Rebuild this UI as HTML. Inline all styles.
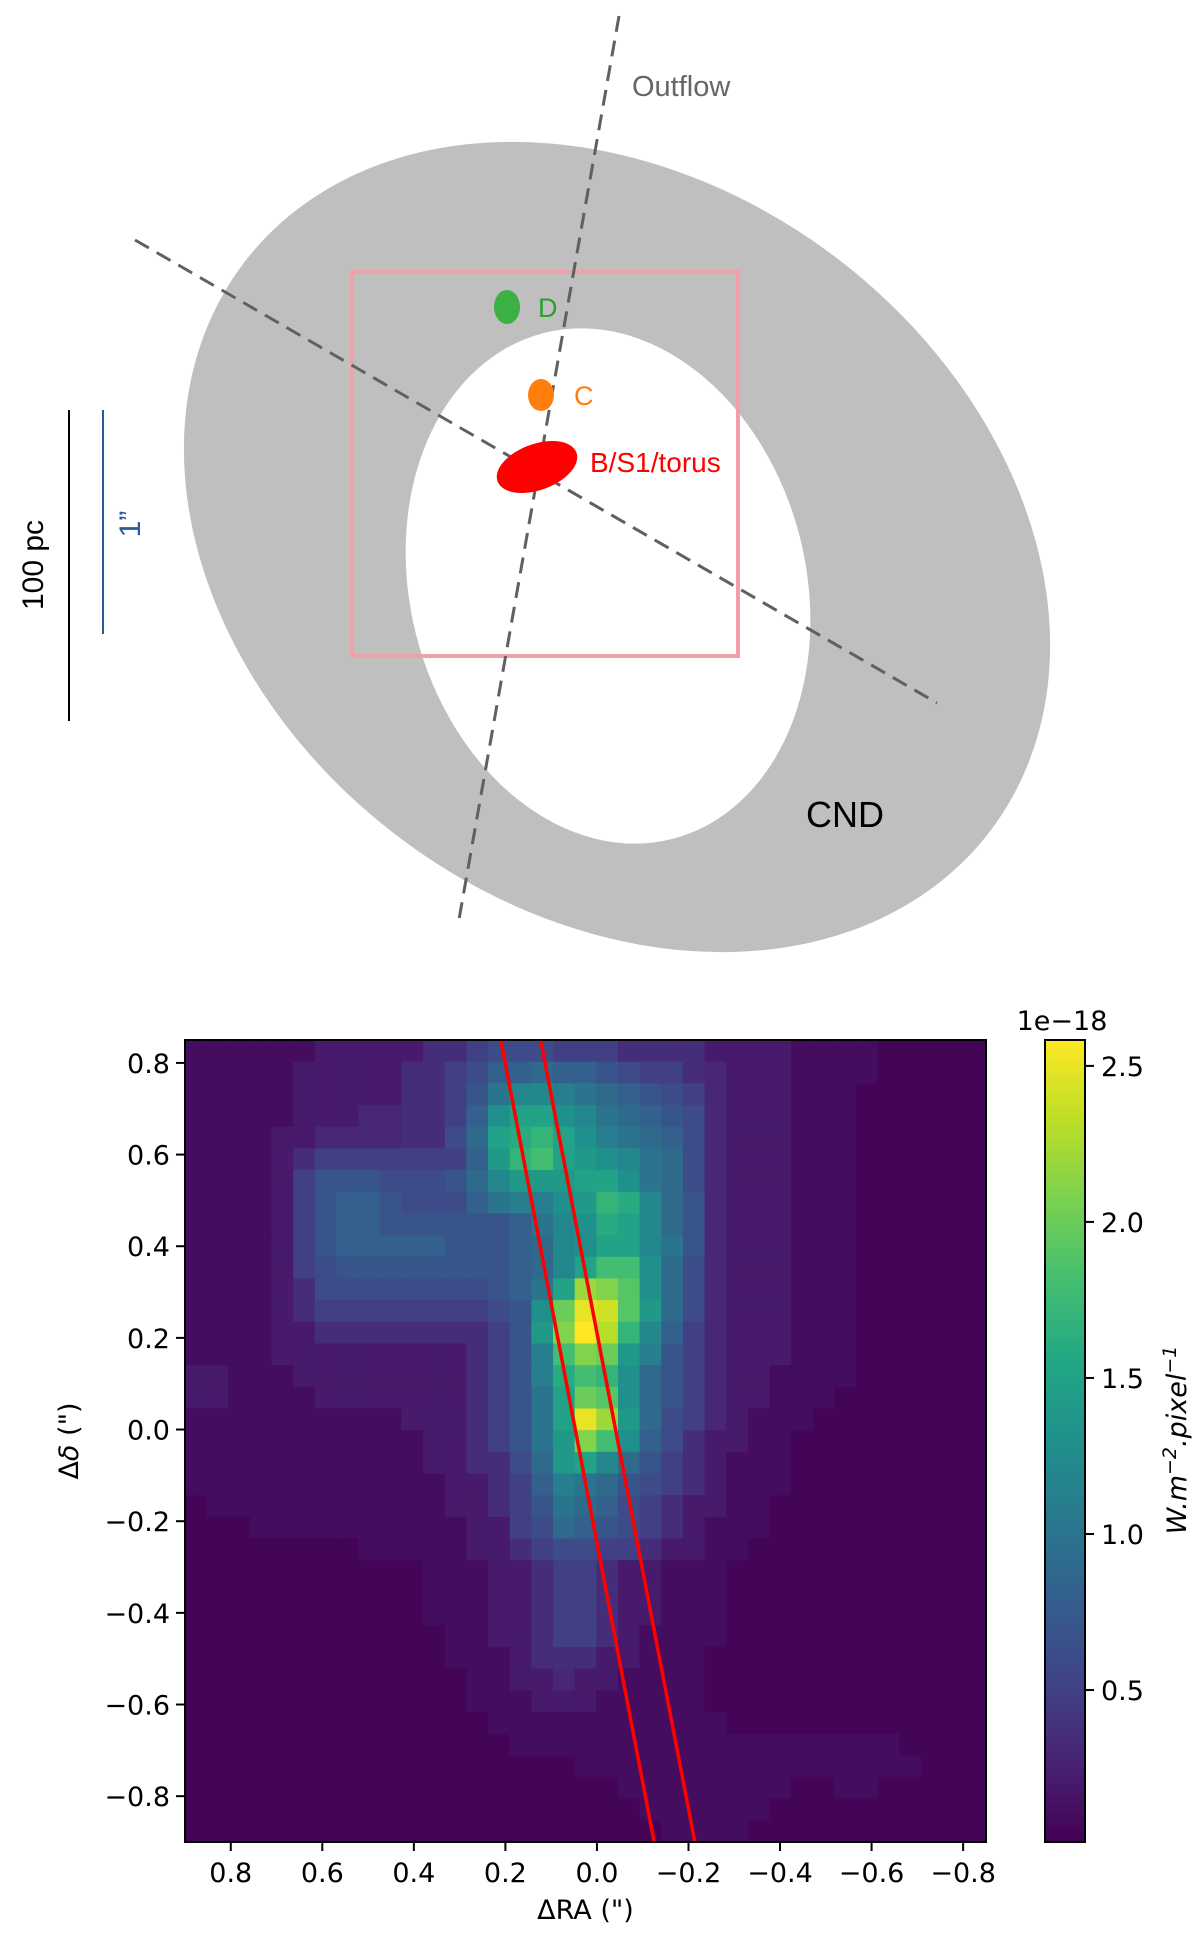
<!DOCTYPE html>
<html><head><meta charset="utf-8"><style>
html,body{margin:0;padding:0;background:#fff;}
svg{display:block;}
</style></head><body>
<svg id="root" width="1200" height="1933" viewBox="0 0 1200 1933" xmlns="http://www.w3.org/2000/svg" font-family="'DejaVu Sans','Liberation Sans',sans-serif">
<g id="diagram">
  <g transform="translate(617,547) rotate(37.3)">
    <ellipse cx="0" cy="0" rx="469" ry="363" fill="#bfbfbf"/>
  </g>
  <g transform="translate(608,586) rotate(75.8)">
    <ellipse cx="0" cy="0" rx="261" ry="198" fill="#ffffff"/>
  </g>
  <rect x="352" y="272" width="386" height="384" fill="none" stroke="#f0a0a8" stroke-width="4"/>
  <line x1="619" y1="16" x2="458" y2="925" stroke="#606060" stroke-width="3" stroke-dasharray="16,9"/>
  <line x1="135" y1="240" x2="937" y2="703" stroke="#606060" stroke-width="3" stroke-dasharray="16,9"/>
  <ellipse cx="507" cy="307" rx="13" ry="17" fill="#3cb043"/>
  <text x="538" y="317" font-family="'Liberation Sans',sans-serif" font-size="27" fill="#2ca02c">D</text>
  <ellipse cx="541" cy="395" rx="13" ry="16" fill="#ff7f0e"/>
  <text x="574" y="405" font-family="'Liberation Sans',sans-serif" font-size="27" fill="#ff7f0e">C</text>
  <ellipse cx="537" cy="467" rx="42" ry="23" transform="rotate(-20 537 467)" fill="#ff0000"/>
  <text x="590" y="472" font-family="'Liberation Sans',sans-serif" font-size="28" fill="#ff0000">B/S1/torus</text>
  <text x="632" y="96" font-family="'Liberation Sans',sans-serif" font-size="29" fill="#666666">Outflow</text>
  <text x="806" y="827" font-family="'Liberation Sans',sans-serif" font-size="36" fill="#000">CND</text>
  <line x1="69" y1="410" x2="69" y2="721" stroke="#000" stroke-width="2"/>
  <line x1="103" y1="410" x2="103" y2="634" stroke="#2a5a9a" stroke-width="2"/>
  <text x="0" y="0" transform="translate(43,565) rotate(-90)" text-anchor="middle" font-family="'Liberation Sans',sans-serif" font-size="30" fill="#000">100 pc</text>
  <text x="0" y="0" transform="translate(140,524) rotate(-90)" text-anchor="middle" font-family="'Liberation Sans',sans-serif" font-size="30" fill="#2a5a9a">1”</text>
</g>
<g id="chart"></g>
</svg>
<script>
// heatmap values in units of 0.1e-18 W m^-2 pixel^-1, rows top (north) to bottom
const row00=[1,1,1,1,1,1,2,2,2,2,2,3.5,3.5,5,6,6,6,5,5,5,3.5,3.5,3.5,3.5,2,2,2,2,1,1,1,1,0.4,0.4,0.4,0.4,0.4];
const row01=[1,1,1,1,1,2,2,2,2,2,3.5,3.5,5,6,8,8,9,8,8,7,6,5,5,3.5,3,2,2,2,1,1,1,1,0.4,0.4,0.4,0.4,0.4];
const row02=[1,1,1,1,1,2,2,2,2,2,3.5,3.5,5,7,10,12,12,11,10,9,8,7,6,5,3,2,2,2,1,1,1,0.4,0.4,0.4,0.4,0.4,0.4];
const row03=[1,1,1,1,1,2,2,2,3,3,3.5,3.5,5,8,13,15,15,13,12,10,9,8,7,6,3,2,2,2,1,1,1,0.4,0.4,0.4,0.4,0.4,0.4];
const row04=[1,1,1,1,2,2,3,3,3,3,3.5,3.5,6,9,15,16,17,15,13,11,10,9,8,6,3,2,2,2,1,1,1,0.4,0.4,0.4,0.4,0.4,0.4];
const row05=[1,1,1,1,2,3.5,5,5,5,5,5,5,5,8,14,17,18,15,14,13,12,10,9,6,3,2,2,2,1,1,1,0.4,0.4,0.4,0.4,0.4,0.4];
const row06=[1,1,1,1,2,5,7,7,7,6,6,6,7,9,12,14,14,14,15,15,13,10,9,6,3,2,2,2,1,1,1,0.4,0.4,0.4,0.4,0.4,0.4];
const row07=[1,1,1,1,2,5,7,8,8,7,6,6,6,8,10,11,11,13,14,17,16,12,9,7,3,2,2,2,1,1,1,0.4,0.4,0.4,0.4,0.4,0.4];
const row08=[1,1,1,1,2,5,7,8,8,7,7,7,7,7,7,8,10,12,13,16,15,12,9,7,3,2,2,2,1,1,1,0.4,0.4,0.4,0.4,0.4,0.4];
const row09=[1,1,1,1,2,5,7,8,8,8,8,8,7,7,7,8,9,12,13,15,15,12,10,7,3,2,2,2,1,1,1,0.4,0.4,0.4,0.4,0.4,0.4];
const row10=[1,1,1,1,2,5,6,7,7,7,7,7,7,7,7,8,9,12,15,18,18,13,9,6,3,2,2,2,1,1,1,0.4,0.4,0.4,0.4,0.4,0.4];
const row11=[1,1,1,1,2,3.5,6,6,6,6,6,6,6,6,7,8,10,15,22,21,19,13,9,6,3,2,2,2,1,1,1,0.4,0.4,0.4,0.4,0.4,0.4];
const row12=[1,1,1,1,2,3.5,5,5,5,5,5,5,5,5,6,7,13,20,25,24,19,14,9,6,3,2,2,2,1,1,1,0.4,0.4,0.4,0.4,0.4,0.4];
const row13=[1,1,1,1,2,2,3.5,3.5,3.5,3.5,3.5,3.5,3.5,3.5,5,7,14,21,26,23,17,12,8,5,3,2,2,2,1,1,1,0.4,0.4,0.4,0.4,0.4,0.4];
const row14=[1,1,1,1,2,2,2,2,2,2,2,2,2,3.5,5,7,11,18,21,20,14,11,7,5,3,2,2,2,1,1,1,0.4,0.4,0.4,0.4,0.4,0.4];
const row15=[2,2,1,1,1,2,2,2,2,2,2,2,2,3.5,5,7,11,16,18,17,13,9,7,5,3,2,2,1,1,1,1,0.4,0.4,0.4,0.4,0.4,0.4];
const row16=[2,2,1,1,1,1,2,2,2,2,2,2,2,3.5,5,7,10,15,20,19,13,9,7,5,3,2,2,1,1,1,0.4,0.4,0.4,0.4,0.4,0.4,0.4];
const row17=[1,1,1,1,1,1,1,1,1,1,2,2,2,3.5,5,7,10,15,25,22,14,9,6,5,3,2,1,1,1,0.4,0.4,0.4,0.4,0.4,0.4,0.4,0.4];
const row18=[1,1,1,1,1,1,1,1,1,1,1,2,2,3.5,5,7,10,14,21,18,13,8,6,3.5,2,2,1,1,0.4,0.4,0.4,0.4,0.4,0.4,0.4,0.4,0.4];
const row19=[1,1,1,1,1,1,1,1,1,1,1,2,2,3.5,3.5,6,9,14,15,12,9,7,5,3.5,2,1,1,1,0.4,0.4,0.4,0.4,0.4,0.4,0.4,0.4,0.4];
const row20=[1,1,1,1,1,1,1,1,1,1,1,1,2,2,3.5,5,8,11,10,9,7,6,5,3.5,2,1,1,1,0.4,0.4,0.4,0.4,0.4,0.4,0.4,0.4,0.4];
const row21=[0.4,1,1,1,1,1,1,1,1,1,1,1,2,2,3.5,5,7,10,9,8,6,5,3.5,2,2,1,1,0.4,0.4,0.4,0.4,0.4,0.4,0.4,0.4,0.4,0.4];
const row22=[0.4,0.4,0.4,1,1,1,1,1,1,1,1,1,1,2,2,5,6,9,8,7,6,5,3.5,2,1,1,1,0.4,0.4,0.4,0.4,0.4,0.4,0.4,0.4,0.4,0.4];
const row23=[0.4,0.4,0.4,0.4,0.4,0.4,0.4,0.4,1,1,1,1,1,2,2,3.5,5,6,6,5,5,3.5,2,2,1,1,0.4,0.4,0.4,0.4,0.4,0.4,0.4,0.4,0.4,0.4,0.4];
const row24=[0.4,0.4,0.4,0.4,0.4,0.4,0.4,0.4,0.4,0.4,0.4,1,1,1,2,2,3.5,5,5,3.5,2,2,1,1,1,0.4,0.4,0.4,0.4,0.4,0.4,0.4,0.4,0.4,0.4,0.4,0.4];
const row25=[0.4,0.4,0.4,0.4,0.4,0.4,0.4,0.4,0.4,0.4,0.4,1,1,1,2,2,3.5,5,5,3.5,2,2,1,1,1,0.4,0.4,0.4,0.4,0.4,0.4,0.4,0.4,0.4,0.4,0.4,0.4];
const row26=[0.4,0.4,0.4,0.4,0.4,0.4,0.4,0.4,0.4,0.4,0.4,1,1,1,2,2,3.5,5,5,3.5,2,2,1,1,1,0.4,0.4,0.4,0.4,0.4,0.4,0.4,0.4,0.4,0.4,0.4,0.4];
const row27=[0.4,0.4,0.4,0.4,0.4,0.4,0.4,0.4,0.4,0.4,0.4,0.4,1,1,2,2,3.5,5,5,3.5,2,1,1,1,1,0.4,0.4,0.4,0.4,0.4,0.4,0.4,0.4,0.4,0.4,0.4,0.4];
const row28=[0.4,0.4,0.4,0.4,0.4,0.4,0.4,0.4,0.4,0.4,0.4,0.4,1,1,1,2,3.5,3.5,3.5,2,2,1,1,1,0.4,0.4,0.4,0.4,0.4,0.4,0.4,0.4,0.4,0.4,0.4,0.4,0.4];
const row29=[0.4,0.4,0.4,0.4,0.4,0.4,0.4,0.4,0.4,0.4,0.4,0.4,0.4,1,1,2,2,3,2,2,1,1,1,1,0.4,0.4,0.4,0.4,0.4,0.4,0.4,0.4,0.4,0.4,0.4,0.4,0.4];
const row30=[0.4,0.4,0.4,0.4,0.4,0.4,0.4,0.4,0.4,0.4,0.4,0.4,0.4,1,1,1,2,2,2,1,1,1,1,1,0.4,0.4,0.4,0.4,0.4,0.4,0.4,0.4,0.4,0.4,0.4,0.4,0.4];
const row31=[0.4,0.4,0.4,0.4,0.4,0.4,0.4,0.4,0.4,0.4,0.4,0.4,0.4,0.4,1,1,1,1,1,1,1,1,1,1,1,0.4,0.4,0.4,0.4,0.4,0.4,0.4,0.4,0.4,0.4,0.4,0.4];
const row32=[0.4,0.4,0.4,0.4,0.4,0.4,0.4,0.4,0.4,0.4,0.4,0.4,0.4,0.4,0.4,1,1,1,1,1,1,1,1,1,1,1,1,1,1,1,1,1,1,0.4,0.4,0.4,0.4];
const row33=[0.4,0.4,0.4,0.4,0.4,0.4,0.4,0.4,0.4,0.4,0.4,0.4,0.4,0.4,0.4,0.4,0.4,0.4,1,1,1,1,1,1,1,1,1,1,1,1,1,1,1,1,0.4,0.4,0.4];
const row34=[0.4,0.4,0.4,0.4,0.4,0.4,0.4,0.4,0.4,0.4,0.4,0.4,0.4,0.4,0.4,0.4,0.4,0.4,0.4,0.4,1,1,1,1,1,1,1,1,0.4,0.4,1,1,0.4,0.4,0.4,0.4,0.4];
const row35=[0.4,0.4,0.4,0.4,0.4,0.4,0.4,0.4,0.4,0.4,0.4,0.4,0.4,0.4,0.4,0.4,0.4,0.4,0.4,0.4,0.4,1,1,1,1,1,1,0.4,0.4,0.4,0.4,0.4,0.4,0.4,0.4,0.4,0.4];
const row36=[0.4,0.4,0.4,0.4,0.4,0.4,0.4,0.4,0.4,0.4,0.4,0.4,0.4,0.4,0.4,0.4,0.4,0.4,0.4,0.4,0.4,0.4,1,1,1,1,0.4,0.4,0.4,0.4,0.4,0.4,0.4,0.4,0.4,0.4,0.4];
const gridRows=[row00,row01,row02,row03,row04,row05,row06,row07,row08,row09,row10,row11,row12,row13,row14,row15,row16,row17,row18,row19,row20,row21,row22,row23,row24,row25,row26,row27,row28,row29,row30,row31,row32,row33,row34,row35,row36];
const xTicks=[0.8,0.6,0.4,0.2,0.0,-0.2,-0.4,-0.6,-0.8];
const yTicks=[0.8,0.6,0.4,0.2,0.0,-0.2,-0.4,-0.6,-0.8];
const cbTicks=[0.5,1.0,1.5,2.0,2.5];
const line1X=[0.21,-0.125];
const line1Y=[0.85,-0.9];
const line2X=[0.123,-0.214];
const line2Y=[0.85,-0.9];
const xDomain=[0.9,-0.85];
const yDomain=[0.85,-0.9];
const cDomain=[0.013,2.583];

const P={l:185,r:986,t:1040,b:1842};
const sx=v=>P.l+(v-xDomain[0])/(xDomain[1]-xDomain[0])*(P.r-P.l);
const sy=v=>P.t+(v-yDomain[0])/(yDomain[1]-yDomain[0])*(P.b-P.t);
const CB={l:1045,r:1085,t:1040,b:1842};
const sc=v=>CB.b-(v-cDomain[0])/(cDomain[1]-cDomain[0])*(CB.b-CB.t);

const VIR=[[68,1,84],[72,35,116],[64,67,135],[52,94,141],[41,120,142],[32,144,140],[34,167,132],[68,190,112],[121,209,81],[189,222,38],[253,231,37]];
function viridis(t){t=Math.max(0,Math.min(1,t));const f=t*10,i=Math.min(9,Math.floor(f)),u=f-i;const a=VIR[i],b=VIR[i+1];return 'rgb('+a.map((c,k)=>Math.round(c+(b[k]-c)*u)).join(',')+')';}
const NS='http://www.w3.org/2000/svg';
function mk(tag,attrs,parent){const e=document.createElementNS(NS,tag);for(const k in attrs)e.setAttribute(k,attrs[k]);parent.appendChild(e);return e;}
const g=document.getElementById('chart');
const fmt=v=>(v<0?'\u2212':'')+Math.abs(v).toFixed(1);

const nR=gridRows.length,nC=gridRows[0].length;
const cw=(xDomain[0]-xDomain[1])/nC, ch=(yDomain[0]-yDomain[1])/nR;
const cells=mk('g',{},g);


gridRows.forEach((row,r)=>{row.forEach((v,c)=>{
  const x0=sx(xDomain[0]-c*cw),x1=sx(xDomain[0]-(c+1)*cw),y0=sy(yDomain[0]-r*ch),y1=sy(yDomain[0]-(r+1)*ch);
  const val=v/10;
  const t=(val-cDomain[0])/(cDomain[1]-cDomain[0]);
  const rc=mk('rect',{x:x0.toFixed(2),y:y0.toFixed(2),width:(x1-x0+0.6).toFixed(2),height:(y1-y0+0.6).toFixed(2),fill:viridis(t)},cells);
  
  
});});

[[line1X,line1Y,'slit-edge-left'],[line2X,line2Y,'slit-edge-right']].forEach(([X,Y,n])=>{
  const l=mk('line',{x1:sx(X[0]),y1:sy(Y[0]),x2:sx(X[1]),y2:sy(Y[1]),stroke:'#ff0000','stroke-width':3.5},g);
  
  
});
const frame=mk('rect',{x:P.l,y:P.t,width:P.r-P.l,height:P.b-P.t,fill:'none',stroke:'#000','stroke-width':2},g);



xTicks.forEach(v=>{
  const x=sx(v);
  mk('line',{x1:x,y1:P.b,x2:x,y2:P.b+9,stroke:'#000','stroke-width':2},g);
  const t=mk('text',{x:x,y:P.b+40,'text-anchor':'middle','font-size':27,fill:'#000'},g);
  t.textContent=fmt(v);
  
  
});
yTicks.forEach(v=>{
  const y=sy(v);
  mk('line',{x1:P.l-9,y1:y,x2:P.l,y2:y,stroke:'#000','stroke-width':2},g);
  const t=mk('text',{x:P.l-15,y:y+10,'text-anchor':'end','font-size':27,fill:'#000'},g);
  t.textContent=fmt(v);
  
  
});
const xt=mk('text',{x:(P.l+P.r)/2,y:1919,'text-anchor':'middle','font-size':27,fill:'#000'},g);
xt.textContent='\u0394RA (")';


const yt=mk('text',{x:0,y:0,transform:'translate(78,'+((P.t+P.b)/2)+') rotate(-90)','text-anchor':'middle','font-size':27,fill:'#000'},g);
yt.innerHTML='\u0394<tspan font-style="italic">\u03b4</tspan> (")';



const defs=mk('defs',{},g);
const grad=mk('linearGradient',{id:'vgrad',x1:0,y1:1,x2:0,y2:0},defs);
VIR.forEach((c,i)=>mk('stop',{offset:(i*10)+'%','stop-color':'rgb('+c.join(',')+')'},grad));
const cb=mk('rect',{x:CB.l,y:CB.t,width:CB.r-CB.l,height:CB.b-CB.t,fill:'url(#vgrad)',stroke:'#000','stroke-width':2},g);


cbTicks.forEach(v=>{
  const y=sc(v);
  mk('line',{x1:CB.r,y1:y,x2:CB.r+9,y2:y,stroke:'#000','stroke-width':2},g);
  const t=mk('text',{x:CB.r+16,y:y+10,'font-size':27,fill:'#000'},g);
  t.textContent=v.toFixed(1);
  
  
});
const ex=mk('text',{x:1062,y:1030,'text-anchor':'middle','font-size':27,fill:'#000'},g);
ex.textContent='1e\u221218';


const cl=mk('text',{x:0,y:0,transform:'translate(1186,1440) rotate(-90)','text-anchor':'middle','font-size':27,'font-style':'italic',fill:'#000'},g);
cl.innerHTML='W.m<tspan dy="-10" font-size="19">\u22122</tspan><tspan dy="10">.pixel</tspan><tspan dy="-10" font-size="19">\u22121</tspan>';


</script>
</body></html>
